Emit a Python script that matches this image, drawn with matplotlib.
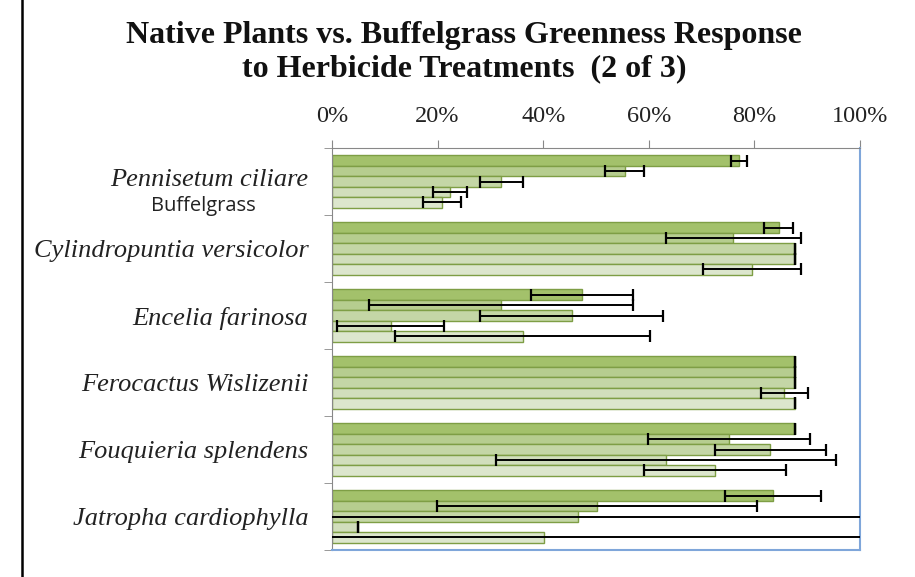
import numpy as np
import matplotlib
matplotlib.use("Agg")
import matplotlib.pyplot as plt
from matplotlib.lines import Line2D
from matplotlib.ticker import FuncFormatter

# ------------------------------------------
# data (greenness response, %)
# ------------------------------------------
species = ['Pennisetum ciliare', 'Cylindropuntia versicolor', 'Encelia farinosa',
           'Ferocactus Wislizenii', 'Fouquieria splendens', 'Jatropha cardiophylla']
common_name = 'Buffelgrass'
x_ticks = [0, 20, 40, 60, 80, 100]

t1 = [77.1, 84.6, 47.4, 87.6, 87.6, 83.5]
t1_err = [1.5, 2.7, 9.7, 0, 0, 9.1]
t2 = [55.4, 76.0, 32.1, 87.6, 75.2, 50.1]
t2_err = [3.7, 12.8, 25.0, 0, 15.3, 30.3]
t3 = [32.1, 87.6, 45.4, 87.6, 83.0, 46.5]
t3_err = [4.1, 0, 17.3, 0, 10.5, 60.0]
t4 = [22.4, 87.6, 11.1, 85.7, 63.2, 4.9]
t4_err = [3.2, 0, 10.1, 4.5, 32.2, 0]
t5 = [20.9, 79.6, 36.1, 87.6, 72.5, 40.2]
t5_err = [3.6, 9.3, 24.2, 0, 13.4, 65.0]

series = [(t1, t1_err), (t2, t2_err), (t3, t3_err), (t4, t4_err), (t5, t5_err)]
colors = ['#A3C16B', '#B6CD8F', '#C4D6A6', '#D1DEBC', '#DCE6CD']
edge = '#7E9E45'

fig = plt.figure(figsize=(9.15, 5.77), dpi=100)
ax = fig.add_axes([332 / 915, 1 - 550 / 577, (860 - 332) / 915, (550 - 148) / 577])

y = np.arange(len(species))
h = 0.156
for i, (vals, errs) in enumerate(series):
    pos = y + (i - 2) * h
    ax.barh(pos, vals, height=h, color=colors[i], edgecolor=edge, linewidth=1.0, zorder=2)
    ax.errorbar(vals, pos, xerr=errs, fmt='none', ecolor='black', elinewidth=1.4,
                capsize=4, capthick=1.6, zorder=3)

ax.set_xlim(0, 100)
ax.set_ylim(len(species) - 0.5, -0.5)

# x axis on top
ax.xaxis.tick_top()
ax.set_xticks(x_ticks)
ax.xaxis.set_major_formatter(FuncFormatter(lambda v, p: f"{int(v)}%"))
ax.tick_params(axis='x', direction='out', length=6, color='#888888', pad=9,
               labelsize=17.5, labelfontfamily='Liberation Serif', labelcolor='#222222')

# y axis: labels at centers, tick marks at group boundaries
ax.set_yticks(y)
ax.set_yticklabels([''] + species[1:], fontfamily='Liberation Serif', fontstyle='italic',
                   fontsize=19, color='#222222')
ax.tick_params(axis='y', which='major', length=0, pad=17)
ax.set_yticks(np.arange(len(species) + 1) - 0.5, minor=True)
ax.tick_params(axis='y', which='minor', direction='out', length=6, color='#888888')

# first label has the common name under it
ax.text(-0.045, -0.02, species[0], transform=ax.get_yaxis_transform(), ha='right', va='center',
        fontfamily='Liberation Serif', fontstyle='italic', fontsize=19, color='#222222')
ax.text(-0.244, 0.37, common_name, transform=ax.get_yaxis_transform(), ha='center', va='center',
        fontfamily='Open Sans', fontsize=14.5, color='#222222')

for s in ['top', 'left']:
    ax.spines[s].set_color('#888888')
for s in ['right', 'bottom']:
    ax.spines[s].set_color('#7FA6DA')
    ax.spines[s].set_linewidth(1.5)

fig.text(464 / 915, 1 - 52 / 577,
         'Native Plants vs. Buffelgrass Greenness Response\nto Herbicide Treatments  (2 of 3)',
         ha='center', va='center', fontfamily='Liberation Serif', fontweight='bold',
         fontsize=23, linespacing=1.2, color='#111111')

# page border line at the left
fig.add_artist(Line2D([22 / 915, 22 / 915], [0, 1], color='black', linewidth=1.8))

fig.savefig('out.png', dpi=100)
